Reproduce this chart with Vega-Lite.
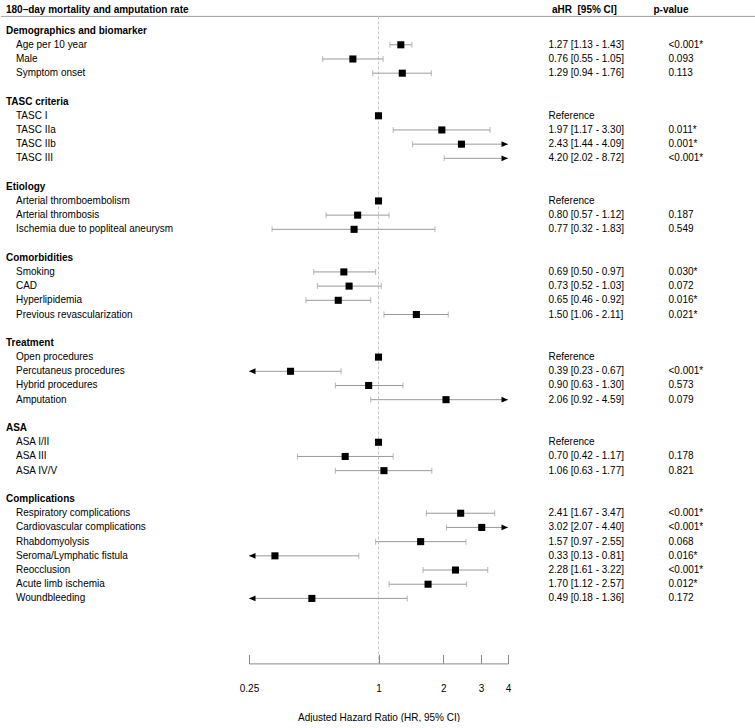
{
  "$schema": "https://vega.github.io/schema/vega-lite/v6.json",
  "padding": {"top": 4.4, "left": 0, "right": 0, "bottom": 0},
  "bounds": "flush",
  "spacing": 0,
  "background": "white",
  "config": {
    "view": {"stroke": null},
    "font": "Liberation Sans",
    "text": {"font": "Liberation Sans", "fontSize": 10, "color": "#000"}
  },
  "datasets": {
    "rows": [
      {"row": 0, "label": "Demographics and biomarker", "kind": "group"},
      {"row": 1, "label": "Age per 10 year", "kind": "item", "hr": 1.27, "lo": 1.13, "hi": 1.43, "ci": "1.27 [1.13 - 1.43]", "p": "<0.001*"},
      {"row": 2, "label": "Male", "kind": "item", "hr": 0.76, "lo": 0.55, "hi": 1.05, "ci": "0.76 [0.55 - 1.05]", "p": "0.093"},
      {"row": 3, "label": "Symptom onset", "kind": "item", "hr": 1.29, "lo": 0.94, "hi": 1.76, "ci": "1.29 [0.94 - 1.76]", "p": "0.113"},
      {"row": 5, "label": "TASC criteria", "kind": "group"},
      {"row": 6, "label": "TASC I", "kind": "item", "hr": 1, "ci": "Reference", "p": ""},
      {"row": 7, "label": "TASC IIa", "kind": "item", "hr": 1.97, "lo": 1.17, "hi": 3.30, "ci": "1.97 [1.17 - 3.30]", "p": "0.011*"},
      {"row": 8, "label": "TASC IIb", "kind": "item", "hr": 2.43, "lo": 1.44, "hi": 4.09, "ci": "2.43 [1.44 - 4.09]", "p": "0.001*"},
      {"row": 9, "label": "TASC III", "kind": "item", "hr": 4.20, "lo": 2.02, "hi": 8.72, "ci": "4.20 [2.02 - 8.72]", "p": "<0.001*"},
      {"row": 11, "label": "Etiology", "kind": "group"},
      {"row": 12, "label": "Arterial thromboembolism", "kind": "item", "hr": 1, "ci": "Reference", "p": ""},
      {"row": 13, "label": "Arterial thrombosis", "kind": "item", "hr": 0.80, "lo": 0.57, "hi": 1.12, "ci": "0.80 [0.57 - 1.12]", "p": "0.187"},
      {"row": 14, "label": "Ischemia due to popliteal aneurysm", "kind": "item", "hr": 0.77, "lo": 0.32, "hi": 1.83, "ci": "0.77 [0.32 - 1.83]", "p": "0.549"},
      {"row": 16, "label": "Comorbidities", "kind": "group"},
      {"row": 17, "label": "Smoking", "kind": "item", "hr": 0.69, "lo": 0.50, "hi": 0.97, "ci": "0.69 [0.50 - 0.97]", "p": "0.030*"},
      {"row": 18, "label": "CAD", "kind": "item", "hr": 0.73, "lo": 0.52, "hi": 1.03, "ci": "0.73 [0.52 - 1.03]", "p": "0.072"},
      {"row": 19, "label": "Hyperlipidemia", "kind": "item", "hr": 0.65, "lo": 0.46, "hi": 0.92, "ci": "0.65 [0.46 - 0.92]", "p": "0.016*"},
      {"row": 20, "label": "Previous revascularization", "kind": "item", "hr": 1.50, "lo": 1.06, "hi": 2.11, "ci": "1.50 [1.06 - 2.11]", "p": "0.021*"},
      {"row": 22, "label": "Treatment", "kind": "group"},
      {"row": 23, "label": "Open procedures", "kind": "item", "hr": 1, "ci": "Reference", "p": ""},
      {"row": 24, "label": "Percutaneus procedures", "kind": "item", "hr": 0.39, "lo": 0.23, "hi": 0.67, "ci": "0.39 [0.23 - 0.67]", "p": "<0.001*"},
      {"row": 25, "label": "Hybrid procedures", "kind": "item", "hr": 0.90, "lo": 0.63, "hi": 1.30, "ci": "0.90 [0.63 - 1.30]", "p": "0.573"},
      {"row": 26, "label": "Amputation", "kind": "item", "hr": 2.06, "lo": 0.92, "hi": 4.59, "ci": "2.06 [0.92 - 4.59]", "p": "0.079"},
      {"row": 28, "label": "ASA", "kind": "group"},
      {"row": 29, "label": "ASA I/II", "kind": "item", "hr": 1, "ci": "Reference", "p": ""},
      {"row": 30, "label": "ASA III", "kind": "item", "hr": 0.70, "lo": 0.42, "hi": 1.17, "ci": "0.70 [0.42 - 1.17]", "p": "0.178"},
      {"row": 31, "label": "ASA IV/V", "kind": "item", "hr": 1.06, "lo": 0.63, "hi": 1.77, "ci": "1.06 [0.63 - 1.77]", "p": "0.821"},
      {"row": 33, "label": "Complications", "kind": "group"},
      {"row": 34, "label": "Respiratory complications", "kind": "item", "hr": 2.41, "lo": 1.67, "hi": 3.47, "ci": "2.41 [1.67 - 3.47]", "p": "<0.001*"},
      {"row": 35, "label": "Cardiovascular complications", "kind": "item", "hr": 3.02, "lo": 2.07, "hi": 4.40, "ci": "3.02 [2.07 - 4.40]", "p": "<0.001*"},
      {"row": 36, "label": "Rhabdomyolysis", "kind": "item", "hr": 1.57, "lo": 0.97, "hi": 2.55, "ci": "1.57 [0.97 - 2.55]", "p": "0.068"},
      {"row": 37, "label": "Seroma/Lymphatic fistula", "kind": "item", "hr": 0.33, "lo": 0.13, "hi": 0.81, "ci": "0.33 [0.13 - 0.81]", "p": "0.016*"},
      {"row": 38, "label": "Reocclusion", "kind": "item", "hr": 2.28, "lo": 1.61, "hi": 3.22, "ci": "2.28 [1.61 - 3.22]", "p": "<0.001*"},
      {"row": 39, "label": "Acute limb ischemia", "kind": "item", "hr": 1.70, "lo": 1.12, "hi": 2.57, "ci": "1.70 [1.12 - 2.57]", "p": "0.012*"},
      {"row": 40, "label": "Woundbleeding", "kind": "item", "hr": 0.49, "lo": 0.18, "hi": 1.36, "ci": "0.49 [0.18 - 1.36]", "p": "0.172"}
    ],
    "heads": [
      {"row": -1, "col": "label", "kind": "group", "text": "180–day mortality and amputation rate"},
      {"row": -1, "col": "ci", "kind": "group", "text": "aHR\u00a0 [95% CI]"},
      {"row": -1, "col": "p", "kind": "group", "text": "p-value"}
    ]
  },
  "hconcat": [
    {
      "width": 248,
      "height": 647,
      "layer": [
        {
          "data": {"name": "heads"},
          "transform": [{"filter": "datum.col === 'label'"}],
          "mark": {"type": "rule", "color": "#a0a0a0", "strokeWidth": 1},
          "encoding": {
            "y": {"field": "row", "type": "quantitative", "scale": {"domain": [-1, 44.577], "reverse": true, "nice": false, "zero": false}, "axis": null}
          }
        },
        {
          "data": {"name": "heads"},
          "transform": [{"filter": "datum.col === 'label'"}],
          "mark": {"type": "text", "align": "left", "baseline": "middle", "fontWeight": "bold", "fontSize": 10, "dy": -6.4},
          "encoding": {
            "x": {"field": "kind", "type": "nominal", "scale": {"type": "point", "domain": ["group", "item"], "range": [5, 15], "padding": 0}, "axis": null},
            "y": {"field": "row", "type": "quantitative", "axis": null},
            "text": {"field": "text"}
          }
        },
        {
          "data": {"name": "rows"},
          "transform": [{"filter": "datum.kind === 'group'"}],
          "mark": {"type": "text", "align": "left", "baseline": "middle", "fontWeight": "bold", "fontSize": 10},
          "encoding": {
            "x": {"field": "kind", "type": "nominal", "axis": null},
            "y": {"field": "row", "type": "quantitative", "axis": null},
            "text": {"field": "label"}
          }
        },
        {
          "data": {"name": "rows"},
          "transform": [{"filter": "datum.kind === 'item'"}],
          "mark": {"type": "text", "align": "left", "baseline": "middle", "fontSize": 10},
          "encoding": {
            "x": {"field": "kind", "type": "nominal", "axis": null},
            "y": {"field": "row", "type": "quantitative", "axis": null},
            "text": {"field": "label"}
          }
        }
      ]
    },
    {
      "width": 259,
      "height": 647,
      "layer": [
        {
          "data": {"name": "heads"},
          "transform": [{"filter": "datum.col === 'label'"}],
          "mark": {"type": "rule", "color": "#a0a0a0", "strokeWidth": 1},
          "encoding": {
            "y": {"field": "row", "type": "quantitative", "scale": {"domain": [-1, 44.577], "reverse": true, "nice": false, "zero": false}, "axis": null}
          }
        },
        {
          "data": {"name": "rows"},
          "transform": [
            {"filter": "datum.ci === 'Reference'"},
            {"aggregate": [{"op": "min", "field": "hr", "as": "hr"}]}
          ],
          "mark": {"type": "rule", "color": "#c8c8c8", "strokeWidth": 1, "strokeDash": [3, 2]},
          "encoding": {
            "x": {"field": "hr", "type": "quantitative", "title": "Adjusted Hazard Ratio (HR, 95% CI)"}
          }
        },
        {
          "data": {"name": "rows"},
          "transform": [{"filter": "isValid(datum.lo)"}],
          "mark": {"type": "rule", "color": "#9a9a9a", "strokeWidth": 1},
          "encoding": {
            "x": {"field": "lo", "type": "quantitative", "title": "Adjusted Hazard Ratio (HR, 95% CI)"},
            "x2": {"field": "hi"},
            "y": {"field": "row", "type": "quantitative", "axis": null}
          }
        },
        {
          "data": {"name": "rows"},
          "transform": [{"filter": "isValid(datum.lo) && datum.lo >= 0.25"}],
          "mark": {"type": "tick", "orient": "vertical", "color": "#9a9a9a", "size": 6, "thickness": 1},
          "encoding": {
            "x": {"field": "lo", "type": "quantitative", "title": "Adjusted Hazard Ratio (HR, 95% CI)"},
            "y": {"field": "row", "type": "quantitative", "axis": null}
          }
        },
        {
          "data": {"name": "rows"},
          "transform": [{"filter": "isValid(datum.hi) && datum.hi <= 4"}],
          "mark": {"type": "tick", "orient": "vertical", "color": "#9a9a9a", "size": 6, "thickness": 1},
          "encoding": {
            "x": {"field": "hi", "type": "quantitative", "title": "Adjusted Hazard Ratio (HR, 95% CI)"},
            "y": {"field": "row", "type": "quantitative", "axis": null}
          }
        },
        {
          "data": {"name": "rows"},
          "transform": [{"filter": "isValid(datum.hi) && datum.hi > 4"}],
          "mark": {"type": "point", "shape": "M0,0L-1,-0.45L-1,0.45Z", "filled": true, "color": "#000", "opacity": 1, "size": 169, "strokeWidth": 0},
          "encoding": {
            "x": {"field": "hi", "type": "quantitative", "title": "Adjusted Hazard Ratio (HR, 95% CI)"},
            "y": {"field": "row", "type": "quantitative", "axis": null}
          }
        },
        {
          "data": {"name": "rows"},
          "transform": [{"filter": "isValid(datum.lo) && datum.lo < 0.25"}],
          "mark": {"type": "point", "shape": "M0,0L1,-0.45L1,0.45Z", "filled": true, "color": "#000", "opacity": 1, "size": 169, "strokeWidth": 0},
          "encoding": {
            "x": {"field": "lo", "type": "quantitative", "title": "Adjusted Hazard Ratio (HR, 95% CI)"},
            "y": {"field": "row", "type": "quantitative", "axis": null}
          }
        },
        {
          "data": {"name": "rows"},
          "transform": [{"filter": "isValid(datum.hr) && datum.hr <= 4"}],
          "mark": {"type": "point", "shape": "square", "filled": true, "color": "#000", "opacity": 1, "size": 50, "strokeWidth": 0},
          "encoding": {
            "x": {
              "field": "hr",
              "type": "quantitative",
              "title": "Adjusted Hazard Ratio (HR, 95% CI)",
              "scale": {"type": "log", "domain": [0.25, 4], "clamp": true, "nice": false},
              "axis": {
                "values": [0.25, 1, 2, 3, 4],
                "format": "~g",
                "grid": false,
                "tickSize": -9,
                "tickColor": "#8a8a8a",
                "domainColor": "#8a8a8a",
                "labelPadding": 29,
                "labelFontSize": 10,
                "labelColor": "#000",
                "labelFont": "Liberation Sans",
                "labelFlush": false,
                "labelOverlap": false,
                "titleFontSize": 10,
                "titleFontWeight": "normal",
                "titleColor": "#000",
                "titleFont": "Liberation Sans",
                "titlePadding": 19
              }
            },
            "y": {"field": "row", "type": "quantitative", "axis": null}
          }
        }
      ]
    },
    {
      "width": 248,
      "height": 647,
      "layer": [
        {
          "data": {"name": "heads"},
          "transform": [{"filter": "datum.col === 'label'"}],
          "mark": {"type": "rule", "color": "#a0a0a0", "strokeWidth": 1},
          "encoding": {
            "y": {"field": "row", "type": "quantitative", "scale": {"domain": [-1, 44.577], "reverse": true, "nice": false, "zero": false}, "axis": null}
          }
        },
        {
          "data": {"name": "heads"},
          "transform": [{"filter": "datum.col === 'ci'"}],
          "mark": {"type": "text", "align": "left", "baseline": "middle", "fontWeight": "bold", "fontSize": 10, "dx": 3.5, "dy": -6.4},
          "encoding": {
            "x": {"field": "col", "type": "nominal", "scale": {"type": "point", "domain": ["ci", "p"], "range": [40.5, 160.5], "padding": 0}, "axis": null},
            "y": {"field": "row", "type": "quantitative", "axis": null},
            "text": {"field": "text"}
          }
        },
        {
          "data": {"name": "heads"},
          "transform": [{"filter": "datum.col === 'p'"}],
          "mark": {"type": "text", "align": "left", "baseline": "middle", "fontWeight": "bold", "fontSize": 10, "dx": -15, "dy": -6.4},
          "encoding": {
            "x": {"field": "col", "type": "nominal", "axis": null},
            "y": {"field": "row", "type": "quantitative", "axis": null},
            "text": {"field": "text"}
          }
        },
        {
          "data": {"name": "rows"},
          "transform": [
            {"filter": "datum.kind === 'item'"},
            {"fold": ["ci", "p"], "as": ["col", "val"]},
            {"filter": "isValid(datum.val) && datum.val !== ''"}
          ],
          "mark": {"type": "text", "align": "left", "baseline": "middle", "fontSize": 10},
          "encoding": {
            "x": {"field": "col", "type": "nominal", "axis": null},
            "y": {"field": "row", "type": "quantitative", "axis": null},
            "text": {"field": "val"}
          }
        }
      ]
    }
  ]
}
